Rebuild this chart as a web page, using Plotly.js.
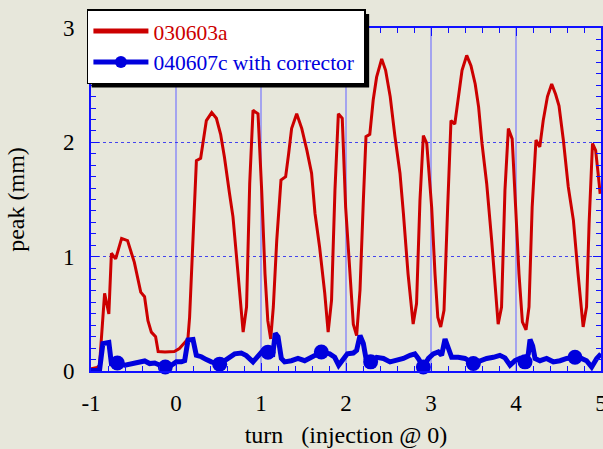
<!DOCTYPE html>
<html>
<head>
<meta charset="utf-8">
<script src="https://cdn.plot.ly/plotly-3.0.1.min.js"></script>
<style>
html,body{margin:0;padding:0;background:#e7e7db;}
#chart{width:603px;height:449px;}
</style>
</head>
<body>
<div id="chart"></div>
<script>
// ---- data ----
const redName = "030603a";
const blueName = "040607c with corrector";

const redX = [-1.0,-0.93,-0.90,-0.84,-0.79,-0.76,-0.71,-0.64,-0.57,-0.49,-0.415,-0.37,-0.33,-0.29,-0.24,-0.21,-0.13,-0.02,0.04,0.10,0.14,0.16,0.20,0.24,0.29,0.357,0.42,0.475,0.525,0.57,0.63,0.67,0.73,0.79,0.83,0.867,0.906,0.965,1.008,1.047,1.08,1.114,1.145,1.185,1.235,1.29,1.325,1.36,1.42,1.48,1.54,1.595,1.635,1.69,1.75,1.79,1.83,1.87,1.91,1.956,1.996,2.047,2.086,2.125,2.165,2.204,2.235,2.28,2.32,2.36,2.42,2.466,2.52,2.576,2.635,2.675,2.73,2.79,2.83,2.87,2.91,2.95,3.008,3.047,3.08,3.114,3.153,3.196,3.235,3.28,3.32,3.365,3.42,3.47,3.52,3.56,3.60,3.655,3.714,3.76,3.79,3.83,3.87,3.91,3.955,3.996,4.035,4.075,4.118,4.153,4.19,4.235,4.28,4.32,4.37,4.42,4.466,4.506,4.557,4.615,4.675,4.73,4.79,4.83,4.86,4.90,4.937,4.97,4.99];
const redY = [0.02,0.03,0.05,0.68,0.50,1.03,0.98,1.16,1.14,0.95,0.69,0.65,0.44,0.34,0.30,0.17,0.166,0.17,0.196,0.25,0.28,0.47,1.14,1.84,1.86,2.19,2.26,2.21,2.07,1.87,1.55,1.35,0.85,0.34,0.56,1.64,2.28,2.25,1.58,0.85,0.44,0.28,0.56,1.14,1.67,1.70,1.90,2.12,2.25,2.12,1.93,1.73,1.38,1.08,0.68,0.34,0.62,1.58,2.25,2.21,1.43,0.85,0.41,0.31,0.71,1.49,2.05,2.07,2.37,2.57,2.73,2.63,2.40,2.05,1.73,1.38,0.85,0.41,0.59,1.49,2.06,1.99,1.43,0.85,0.47,0.385,0.53,1.43,2.19,2.16,2.40,2.63,2.76,2.67,2.51,2.31,1.99,1.64,1.14,0.68,0.41,0.56,1.58,2.12,2.03,1.43,0.85,0.43,0.36,0.56,1.43,2.02,1.96,2.19,2.40,2.51,2.42,2.32,2.02,1.61,1.32,0.85,0.385,0.56,1.29,1.99,1.93,1.70,1.55];

const blueX = [-1.0,-0.90,-0.86,-0.79,-0.76,-0.69,-0.60,-0.526,-0.447,-0.368,-0.31,-0.25,-0.19,-0.126,-0.055,0.004,0.063,0.102,0.141,0.20,0.239,0.298,0.357,0.416,0.514,0.612,0.69,0.768,0.827,0.906,0.965,1.024,1.082,1.14,1.168,1.20,1.239,1.278,1.357,1.435,1.514,1.592,1.71,1.808,1.867,1.914,1.965,2.016,2.086,2.125,2.165,2.204,2.235,2.29,2.36,2.44,2.518,2.596,2.675,2.753,2.81,2.85,2.91,2.97,3.027,3.086,3.125,3.165,3.204,3.243,3.32,3.40,3.498,3.576,3.655,3.733,3.81,3.87,3.93,3.988,4.047,4.106,4.145,4.165,4.196,4.224,4.282,4.36,4.439,4.518,4.596,4.694,4.77,4.83,4.89,4.95,5.0];
const blueY = [0.005,0.005,0.24,0.25,0.065,0.07,0.05,0.065,0.08,0.088,0.065,0.07,0.05,0.035,0.05,0.08,0.08,0.09,0.27,0.275,0.137,0.125,0.10,0.08,0.06,0.11,0.15,0.157,0.135,0.08,0.137,0.18,0.165,0.15,0.33,0.30,0.11,0.08,0.09,0.11,0.09,0.12,0.166,0.15,0.12,0.05,0.11,0.15,0.157,0.18,0.31,0.24,0.11,0.08,0.12,0.11,0.08,0.09,0.11,0.137,0.15,0.11,0.035,0.11,0.15,0.166,0.137,0.28,0.21,0.12,0.12,0.11,0.065,0.09,0.11,0.12,0.137,0.115,0.05,0.09,0.11,0.08,0.15,0.275,0.22,0.11,0.09,0.11,0.08,0.09,0.11,0.12,0.11,0.09,0.035,0.11,0.15];
// x positions (within blueX) that carry a circle marker
const blueMarkerAt = [-0.69,-0.126,0.514,1.082,1.71,2.29,2.91,3.498,4.106,4.694];

const xTickVals = [-1,0,1,2,3,4,5];
const yTickVals = [0,1,2,3];
const xTitle = "turn\u00a0\u00a0\u00a0(injection @ 0)";
const yTitle = "peak (mm)";

// ---- styling ----
const RED = "#cc0000", BLUE = "#0000dd", AXIS = "#1010ff";
const FONT = "Liberation Serif, Times New Roman, serif";
const blueSizes = blueX.map(x => blueMarkerAt.includes(x) ? 15 : 0);

const traces = [
  {x: redX, y: redY, type: "scatter", mode: "lines",
   name: '<span style="color:' + RED + '">' + redName + '</span>',
   line: {color: RED, width: 3}},
  {x: blueX, y: blueY, type: "scatter", mode: "lines+markers",
   name: '<span style="color:' + BLUE + '">' + blueName + '</span>\u00a0',
   line: {color: BLUE, width: 5}, cliponaxis: false,
   marker: {color: BLUE, size: blueSizes, opacity: 1, line: {width: 0}}}
];

function axis(extra) {
  return Object.assign({
    showline: true, linecolor: AXIS, linewidth: 2, mirror: "ticks",
    ticks: "inside", ticklen: 8, tickwidth: 1, tickcolor: AXIS,
    showgrid: true, zeroline: false, ticklabeloverflow: "allow",
    tickfont: {family: FONT, size: 23, color: "#000"}
  }, extra);
}

const layout = {
  width: 603, height: 449,
  margin: {l: 91, r: 2, t: 28, b: 78},
  font: {family: FONT, size: 22, color: "#000"},
  paper_bgcolor: "#e7e7db", plot_bgcolor: "rgba(0,0,0,0)",
  showlegend: true,
  legend: {x: -0.008, y: 1.055, xanchor: "left", yanchor: "top",
           bgcolor: "#ffffff", bordercolor: "#000", borderwidth: 1.5,
           font: {family: FONT, size: 21.5}, itemwidth: 55, itemsizing: "constant",
           tracegroupgap: 0},
  xaxis: axis({
    range: [-1, 5], tickvals: xTickVals, ticktext: xTickVals.map(String),
    gridcolor: "rgba(110,110,255,0.55)", gridwidth: 1.2,
    minor: {dtick: 0.2, ticklen: 5, tickcolor: AXIS, ticks: "inside", showgrid: false},
    ticklabelstandoff: 10,
    title: {text: xTitle, standoff: 12, font: {family: FONT, size: 24, color: "#000"}}
  }),
  yaxis: axis({
    range: [0, 3], tickvals: yTickVals, ticktext: yTickVals.map(String),
    gridcolor: "rgba(40,40,240,0.85)", gridwidth: 1, griddash: "dot",
    minor: {dtick: 0.1, ticklen: 5, tickcolor: AXIS, ticks: "inside", showgrid: false},
    ticklabelstandoff: 10,
    title: {text: yTitle, standoff: 32, font: {family: FONT, size: 24, color: "#000"}}
  })
};

Plotly.newPlot("chart", traces, layout, {displayModeBar: false, staticPlot: true}).then(gd => {
  const bg = gd.querySelector(".legend .bg");
  if (!bg) return;
  const r = bg.getBoundingClientRect();
  const c = gd.getBoundingClientRect();
  const s = gd._fullLayout._size;
  const px = v => (v - c.left - s.l) / s.w;
  const py = v => 1 - (v - c.top - s.t) / s.h;
  const off = 4;
  return Plotly.relayout(gd, {shapes: [{
    type: "rect", xref: "paper", yref: "paper", layer: "above",
    x0: px(r.left + off), x1: px(r.right + off),
    y0: py(r.bottom + off), y1: py(r.top + off),
    fillcolor: "#000", line: {width: 0}
  }]});
});
</script>
</body>
</html>
